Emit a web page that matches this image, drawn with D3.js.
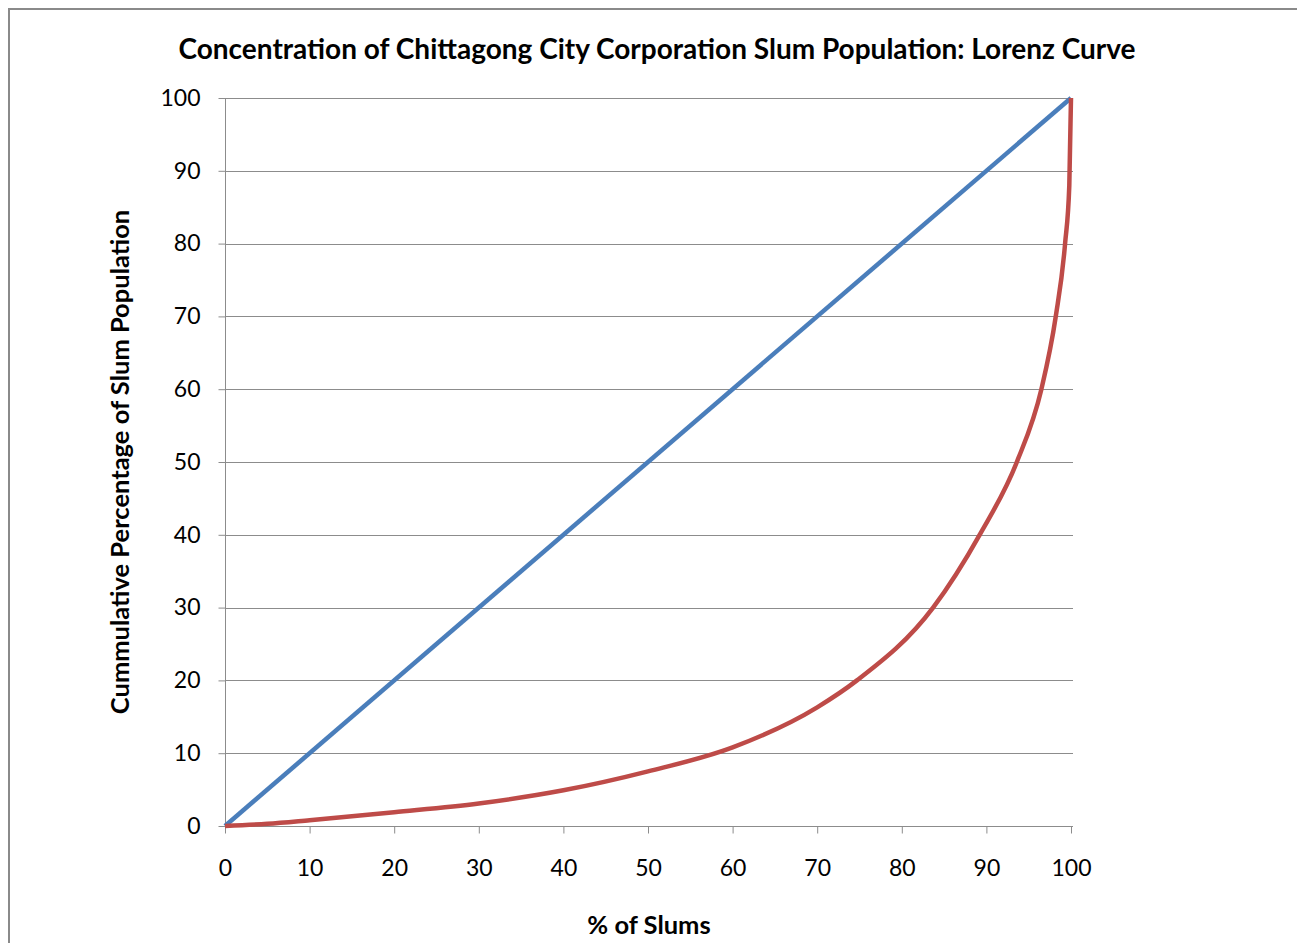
<!DOCTYPE html>
<html>
<head>
<meta charset="utf-8">
<script src="https://cdn.jsdelivr.net/npm/d3@7"></script>
<style>
  html, body { margin: 0; padding: 0; background: #fff; }
  svg { display: block; }
  text { font-family: Lato, "Open Sans", sans-serif; fill: #000; }
</style>
</head>
<body>
<svg id="chart" width="1297" height="943"></svg>
<script>
const titleText = "Concentration of Chittagong City Corporation Slum Population: Lorenz Curve";
const xTitle = "% of Slums";
const yTitle = "Cummulative Percentage of Slum Population";
const xTicks = [0, 10, 20, 30, 40, 50, 60, 70, 80, 90, 100];
const yTicks = [0, 10, 20, 30, 40, 50, 60, 70, 80, 90, 100];

// Line of equality
const equalityX = [0, 100];
const equalityY = [0, 100];

// Lorenz curve
const lorenzX = [0, 5, 10, 20, 30, 40, 50, 60, 70, 74.7, 83.7, 89.2, 93.6, 96.5, 98.2, 99.3, 99.8, 100];
const lorenzY = [0, 0.3, 0.8, 1.9, 3.1, 4.9, 7.5, 10.8, 16.3, 20, 30, 40, 50, 60, 70, 80, 88, 100];

const svg = d3.select("#chart");

const x = d3.scaleLinear().domain([0, 100]).range([225, 1071]);
const y = d3.scaleLinear().domain([0, 100]).range([826, 98]);

// border
svg.append("path")
  .attr("d", "M9,943 L9,9 L1297,9")
  .attr("fill", "none").attr("stroke", "#8a8a8a").attr("stroke-width", 2);

// gridlines
svg.append("g").selectAll("line").data(yTicks.filter(d => d > 0)).join("line")
  .attr("x1", x(0)).attr("x2", x(100) + 2)
  .attr("y1", d => Math.round(y(d)) + 0.5).attr("y2", d => Math.round(y(d)) + 0.5)
  .attr("stroke", "#8c8c8c").attr("stroke-width", 1);

// y axis
const yAxis = d3.axisLeft(y).tickValues(yTicks).tickSize(7).tickPadding(18).tickFormat(d3.format("d"));
const gy = svg.append("g").attr("transform", "translate(225.5,0)").call(yAxis);
gy.select(".domain").attr("stroke", "#8c8c8c").attr("d", `M0,${y(100)}V${y(0)}`);
gy.selectAll(".tick line").attr("stroke", "#8c8c8c");
gy.selectAll(".tick text").style("font-size", "23px").style("font-family", "Lato, sans-serif").attr("fill", "#000");

// x axis
const xAxis = d3.axisBottom(x).tickValues(xTicks).tickSize(7).tickPadding(26).tickFormat(d3.format("d"));
const gx = svg.append("g").attr("transform", "translate(0,826.5)").call(xAxis);
gx.select(".domain").attr("stroke", "#8c8c8c").attr("d", `M${x(0)},0H${x(100) + 2}`);
gx.selectAll(".tick line").attr("stroke", "#8c8c8c");
gx.selectAll(".tick text").style("font-size", "23px").style("font-family", "Lato, sans-serif").attr("fill", "#000");

const line = d3.line().x(d => x(d[0])).y(d => y(d[1]));

svg.append("path")
  .datum(equalityX.map((d, i) => [d, equalityY[i]]))
  .attr("d", line).attr("fill", "none")
  .attr("stroke", "#4a7ebb").attr("stroke-width", 4.5);

svg.append("path")
  .datum(lorenzX.map((d, i) => [d, lorenzY[i]]))
  .attr("d", line.curve(d3.curveMonotoneX)).attr("fill", "none")
  .attr("stroke", "#be4b48").attr("stroke-width", 4.5);

// titles
svg.append("text").attr("x", 657).attr("y", 59).attr("text-anchor", "middle")
  .style("font-size", "28px").style("font-weight", "bold").text(titleText);
svg.append("text").attr("x", 649).attr("y", 934).attr("text-anchor", "middle")
  .style("font-size", "25.5px").style("font-weight", "bold").text(xTitle);
svg.append("text").attr("transform", "translate(129,462) rotate(-90)").attr("text-anchor", "middle")
  .style("font-size", "25.5px").style("font-weight", "bold").text(yTitle);
</script>
</body>
</html>
